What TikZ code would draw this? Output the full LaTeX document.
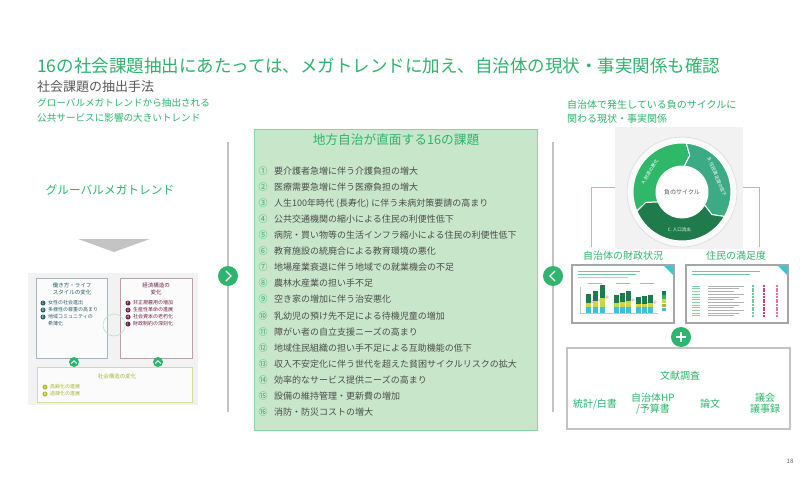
\documentclass[tikz,border=0pt]{standalone}
\usepackage{fontspec}
\setmainfont{Noto Sans CJK JP}
\usetikzlibrary{positioning}
\definecolor{tgreen}{HTML}{2EB46C}
\definecolor{tgrey}{HTML}{595959}
\definecolor{igrey}{HTML}{4D4D4D}
\definecolor{kfill}{HTML}{C8E6C9}
\definecolor{kline}{HTML}{8AD3A6}
\definecolor{lgrey}{HTML}{C4C4C4}
\definecolor{pbg}{HTML}{F2F2F2}
\definecolor{cyA}{HTML}{2FB86A}
\definecolor{cyB}{HTML}{3DAA86}
\definecolor{cyC}{HTML}{1F7B4B}
\definecolor{lifeC}{HTML}{2E5E6E}
\definecolor{ecoC}{HTML}{6E2446}
\definecolor{socC}{HTML}{A9B83A}
\definecolor{barT}{HTML}{3CC3D8}
\definecolor{barY}{HTML}{C8D84A}
\definecolor{pinkM}{HTML}{D0406E}

\begin{document}
\begin{tikzpicture}[x=1pt, y=-1pt, every node/.style={inner sep=0pt},
  chev/.style={circle, fill=tgreen, minimum size=20pt},
  issue/.style={anchor=west, text=igrey, font=\fontsize{9}{10}\selectfont},
  tiny/.style={anchor=west, font=\fontsize{5}{6}\selectfont},
  tag/.style={circle, fill=#1, text=white, minimum size=5pt, font=\fontsize{3.5}{4}\selectfont},
  lit/.style={text=tgreen, font=\fontsize{10}{11}\selectfont}]
  \useasboundingbox (0,0) rectangle (800,489);
  \fill[white] (0,0) rectangle (800,489);

  % ==================== 見出し ====================
  \node[anchor=west, text=tgreen, font=\fontsize{17.5}{20}\selectfont] (title) at (37,66) {16の社会課題抽出にあたっては、メガトレンドに加え、自治体の現状・事実関係も確認};
  \node[anchor=west, text=tgrey, font=\fontsize{13}{15}\selectfont] (method) at (37,87) {社会課題の抽出手法};
  \node[anchor=west, text=tgreen, font=\fontsize{9.6}{11}\selectfont] (lead1) at (37,103) {グローバルメガトレンドから抽出される};
  \node[anchor=west, text=tgreen, font=\fontsize{9.6}{11}\selectfont] (lead2) at (37,118) {公共サービスに影響の大きいトレンド};

  % ==================== 左：メガトレンド ====================
  \begin{scope}
    \node[text=tgreen, font=\fontsize{11.7}{13}\selectfont] (mega) at (110,190) {グルーバルメガトレンド};
    \fill[lgrey] (78,239) -- (150,239) -- (114,252) -- cycle;

    % 1. 背景と枠
    \fill[pbg] (28,273) rectangle (198,405);
    \draw[lifeC!45, fill=white!70!pbg, line width=0.8pt] (36,278) rectangle (107,358);
    \draw[ecoC!45, fill=white!70!pbg, line width=0.8pt] (120,278) rectangle (192,358);
    \draw[socC!50, fill=white!70!pbg, line width=0.8pt] (37,367) rectangle (192,402);
    \draw[kline!60, line width=0.6pt] (114,325) circle (11);

    % 2. 働き方・ライフスタイル
    \node[text=lifeC, font=\fontsize{5.5}{6}\selectfont] (life1) at (72,285) {働き方・ライフ};
    \node[below=1.5pt of life1, text=lifeC, font=\fontsize{5.5}{6}\selectfont] (life2) {スタイルの変化};
    \foreach \c/\y/\t in {C/303/女性の社会進出, D/310/多様性の尊重の高まり, E/317/地域コミュニティの}{
      \node[tag=lifeC] (tag\c) at (43,\y) {\c};
      \node[tiny, text=lifeC] (life\c) at (48,\y) {\t};
    }
    \node[tiny, text=lifeC] (lifeE2) at (48,324) {希薄化};

    % 3. 経済構造
    \node[text=ecoC, font=\fontsize{5.5}{6}\selectfont] (eco1) at (156,285) {経済構造の};
    \node[below=1.5pt of eco1, text=ecoC, font=\fontsize{5.5}{6}\selectfont] (eco2) {変化};
    \foreach \c/\y/\t in {F/303/非正規雇用の増加, G/310/生産性革命の進展, H/317/社会資本の老朽化, I/324/財政制約の深刻化}{
      \node[tag=ecoC] (tag\c) at (128,\y) {\c};
      \node[tiny, text=ecoC] (eco\c) at (133,\y) {\t};
    }

    % 4. 社会構造
    \node[text=socC, font=\fontsize{5.5}{6}\selectfont] (soc) at (117,376) {社会構造の変化};
    \foreach \c/\y/\t in {A/387/高齢化の進展, B/394/過疎化の進展}{
      \node[tag=socC] (tag\c) at (45,\y) {\c};
      \node[tiny, text=socC] (soc\c) at (50,\y) {\t};
    }
    \foreach \x/\n in {74/1, 158/2}{
      \node[circle, fill=tgreen, minimum size=10pt] (up\n) at (\x,362) {};
      \draw[white, line width=0.9pt, line cap=round] ([xshift=-2.5pt,yshift=-1.2pt]up\n.center) -- ([yshift=1.3pt]up\n.center) -- ([xshift=2.5pt,yshift=-1.2pt]up\n.center);
    }
  \end{scope}

  % ==================== 区切り線 ====================
  \coordinate (ltop) at (228,142); \coordinate (lbot) at (228,412);
  \coordinate (rtop) at (553,142); \coordinate (rbot) at (553,412);
  \node[chev] (lchev) at (228,276) {};
  \node[chev] (rchev) at (553,276) {};
  \draw[lgrey, line width=1.5pt] (ltop) -- (lchev) -- (lbot);
  \draw[lgrey, line width=1.5pt] (rtop) -- (rchev) -- (rbot);
  \draw[white, line width=1.3pt, line cap=round] ([xshift=-2pt,yshift=5pt]lchev.center) -- ([xshift=3pt]lchev.center) -- ([xshift=-2pt,yshift=-5pt]lchev.center);
  \draw[white, line width=1.3pt, line cap=round] ([xshift=2pt,yshift=5pt]rchev.center) -- ([xshift=-3pt]rchev.center) -- ([xshift=2pt,yshift=-5pt]rchev.center);

  % ==================== 中央：16の課題 ====================
  \draw[kline, fill=kfill, line width=1pt] (254,130) rectangle (537,430);
  \node[text=tgreen, font=\fontsize{12.7}{14}\selectfont] (ktitle) at (396,140) {地方自治が直面する16の課題};
  \foreach \c/\t [count=\i] in {①/要介護者急増に伴う介護負担の増大, ②/医療需要急増に伴う医療負担の増大,
      ③/人生100年時代 (長寿化) に伴う未病対策要請の高まり, ④/公共交通機関の縮小による住民の利便性低下,
      ⑤/病院・買い物等の生活インフラ縮小による住民の利便性低下, ⑥/教育施設の統廃合による教育環境の悪化,
      ⑦/地場産業衰退に伴う地域での就業機会の不足, ⑧/農林水産業の担い手不足,
      ⑨/空き家の増加に伴う治安悪化, ⑩/乳幼児の預け先不足による待機児童の増加,
      ⑪/障がい者の自立支援ニーズの高まり, ⑫/地域住民組織の担い手不足による互助機能の低下,
      ⑬/収入不安定化に伴う世代を超えた貧困サイクルリスクの拡大, ⑭/効率的なサービス提供ニーズの高まり,
      ⑮/設備の維持管理・更新費の増加, ⑯/消防・防災コストの増大}{
    \node[text=tgreen, font=\fontsize{9}{10}\selectfont] (num\i) at (263,{171+(\i-1)*16.07}) {\c};
    \node[issue] (issue\i) at (274,{171+(\i-1)*16.07}) {\t};
  }

  % ==================== 右：負のサイクル ====================
  \node[anchor=west, text=tgreen, font=\fontsize{10}{11}\selectfont] (cyc1) at (567,105) {自治体で発生している負のサイクルに};
  \node[anchor=west, text=tgreen, font=\fontsize{10}{11}\selectfont] (cyc2) at (567,119) {関わる現状・事実関係};
  \node[fill=pbg, minimum width=128pt, minimum height=122pt] (cyclebg) at (679,188) {};
  \begin{scope}[shift={(682pt,-192pt)}, y=1pt]
    \draw[black!12, fill=white!60!pbg, line width=0.8pt] (0,0) circle (55);
    \foreach \s/\e/\c in {203/85/cyA, 85/-30/cyB, -30/-157/cyC}
      \filldraw[fill=\c, draw=white, line width=1pt] (\s:49) arc[start angle=\s, end angle=\e, radius=49]
        -- ({\e-7}:37.5) -- (\e:26) arc[start angle=\e, end angle=\s, radius=26] -- ({\s-7}:37.5) -- cycle;
    \fill[white] (0,0) circle (25);
    \node[text=tgrey, font=\fontsize{6}{7}\selectfont] (cyc) at (0,0) {負のサイクル};
    \node[rotate=58, text=white, font=\fontsize{4.5}{5}\selectfont] (cycA) at (148:38) {A. 財源の悪化};
    \node[rotate=-67, text=white, font=\fontsize{4.5}{5}\selectfont] (cycB) at (23:38) {B. 住民満足度の低下};
    \node[text=white, font=\fontsize{4.5}{5}\selectfont] (cycC) at (-94:38) {C. 人口流出};
  \end{scope}
  \node[text=tgreen, font=\fontsize{10}{11}\selectfont] (finlbl) at (623,256) {自治体の財政状況};
  \node[text=tgreen, font=\fontsize{10}{11}\selectfont] (satlbl) at (736,256) {住民の満足度};
  \coordinate (finend) at (591,247); \coordinate (satend) at (759,247);
  \draw[kline, line width=1pt] (cyclebg.west) -| (finend);
  \draw[kline, line width=1pt] (cyclebg.east) -| (satend);

  % 1. 財政状況のサムネイル
  \draw[black!35, fill=white, line width=1.2pt] (572,265) rectangle (674,323);
  \fill[barT] (664,266) -- (673,266) -- (673,275) -- cycle;
  \draw[tgreen!70, line width=0.7pt] (578,271) -- (640,271) (578,274) -- (636,274);
  \draw[lgrey, line width=0.7pt] (578,277) -- (628,277);
  \foreach \x in {588,616,640} \draw[tgreen!60, line width=0.6pt] (\x,283) -- (\x+14,283);
  \draw[lgrey, line width=0.4pt] (580,287) -- (580,313) -- (658,313);
  \foreach \x/\h in {586/9, 593/12, 600/18, 614/8, 620/10, 626/12, 636/6, 642/7, 648/8}{
    \fill[barT] (\x,313) rectangle (\x+4.5,307);
    \fill[barY] (\x,307) rectangle (\x+4.5,307-\h*0.5);
    \fill[cyC] (\x,307-\h*0.5) rectangle (\x+4.5,303-\h);
    \draw[pinkM!60, line width=0.3pt] (\x+7,306-\h*0.5) circle (1.3);
  }
  \foreach \i/\c in {0/cyC, 1/cyA, 2/barY, 3/barY!60!olive, 4/barT}
    \fill[\c] (662,291+\i*4.2) rectangle (666,294.5+\i*4.2);

  % 2. 満足度のサムネイル
  \draw[black!35, fill=white, line width=1.2pt] (686,265) rectangle (788,323);
  \fill[barT] (778,266) -- (787,266) -- (787,275) -- cycle;
  \draw[tgreen!70, line width=0.7pt] (692,271) -- (760,271) (692,274) -- (750,274);
  \foreach \i in {0,...,11}{
    \pgfmathsetmacro{\rowend}{744-mod(\i,3)*5}
    \draw[tgreen!60, line width=0.5pt] (692,286+\i*2.7) -- (700,286+\i*2.7);
    \draw[black!30, line width=0.5pt] (708,286+\i*2.7) -- (\rowend,286+\i*2.7);
    \fill[tgreen!70] (752,285+\i*2.7) rectangle (754,287+\i*2.7);
    \fill[pinkM] (763,285+\i*2.7) rectangle (765,287+\i*2.7);
    \fill[pinkM!70] (776,285+\i*2.7) rectangle (778,287+\i*2.7);
  }

  % 3. 文献調査
  \node[chev] (plus) at (681,337) {};
  \draw[white, line width=1.5pt] ([xshift=-5pt]plus.center) -- ([xshift=5pt]plus.center) ([yshift=-5pt]plus.center) -- ([yshift=5pt]plus.center);
  \draw[lgrey, line width=1.2pt] (567,348) rectangle (790,429);
  \node[lit] (bunken) at (680,376) {文献調査};
  \node[lit] (stat) at (595,404) {統計/白書};
  \node[lit] (hp1) at (653,398) {自治体HP};
  \node[lit, below=1.5pt of hp1] (hp2) {/予算書};
  \node[lit] (paper) at (710,404) {論文};
  \node[lit] (gikai1) at (765,398) {議会};
  \node[lit, below=1.5pt of gikai1] (gikai2) {議事録};

  \node[text=tgrey, font=\fontsize{6}{7}\selectfont] (pg) at (790,461) {18};
\end{tikzpicture}
\end{document}
